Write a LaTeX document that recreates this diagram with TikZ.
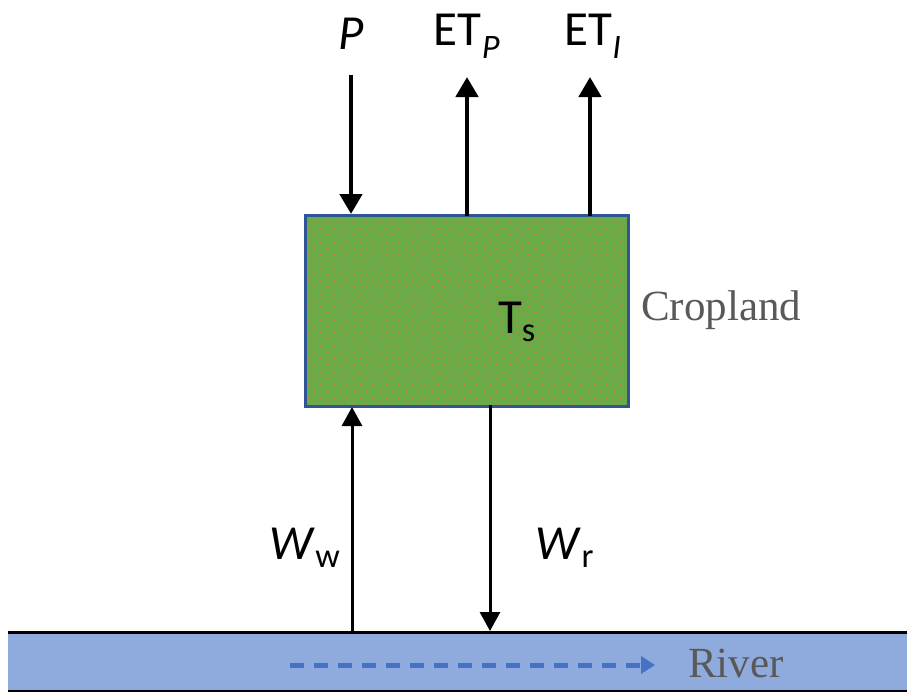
\documentclass[tikz,border=0pt]{standalone}
\usepackage{fontspec}
\setmainfont{Liberation Serif}
\newfontfamily\calib{Carlito}
\usetikzlibrary{arrows.meta,patterns.meta}
\definecolor{cropgreen}{HTML}{6AAB47}
\definecolor{cropblue}{HTML}{2F5597}
\definecolor{riverblue}{HTML}{8FAADC}
\definecolor{flowblue}{HTML}{4472C4}
\definecolor{txtgray}{HTML}{595959}
\definecolor{dotorange}{HTML}{D9773A}
\tikzdeclarepattern{name=cropdots,type=uncolored,bounding box={(0pt,0pt) and (13pt,13pt)},tile size={(13pt,13pt)},code={\fill (3.25pt,3.25pt) circle (1.3pt); \fill (9.75pt,9.75pt) circle (1.3pt);}}
\tikzset{
  flux/.style={line width=4.5pt,-{Triangle[width=22pt,length=20pt]}},
  fluxthin/.style={line width=3pt,-{Triangle[width=20pt,length=19pt]}},
  sym/.style={font=\calib\fontsize{49}{56}\selectfont,inner sep=0pt},
  lab/.style={font=\fontsize{43}{50}\selectfont,text=txtgray,inner sep=0pt}
}
\begin{document}
\begin{tikzpicture}[x=1pt,y=-1pt]
\useasboundingbox (0,0) rectangle (907,693);
% river
\fill[riverblue] (8,632) rectangle (907,691);
\draw[line width=3pt] (8,632) -- (907,632);
\draw[line width=2pt] (8,691) -- (907,691);
\coordinate (rs) at (290,665);
\coordinate (re) at (655,665);
\draw[flowblue,line width=5pt,dash pattern=on 14pt off 10pt,-{Triangle[width=17pt,length=14pt]}] (rs) -- (re);
\node[lab,anchor=west] (river) at (688,663) {River};
% cropland box
\node[draw=cropblue,line width=3pt,fill=cropgreen,minimum width=323pt,minimum height=191pt,inner sep=0pt] (crop) at (466.5,310.5) {};
\fill[pattern=cropdots,pattern color=dotorange] (307,217) rectangle (626,404);
\node[sym] (ts) at (517,322) {T\textsubscript{s}};
\node[lab,anchor=west] (cl) at (641,310) {Cropland};
% top fluxes
\coordinate (p0) at (351,75);
\coordinate (p1) at (351,214);
\coordinate (e1a) at (467,216);
\coordinate (e1b) at (467,77);
\coordinate (e2a) at (590,216);
\coordinate (e2b) at (590,77);
\draw[flux] (p0) -- (p1);
\draw[flux] (e1a) -- (e1b);
\draw[flux] (e2a) -- (e2b);
\node[sym] (P) at (351,34) {\textit{P}};
\node[sym] (etp) at (467,36) {ET\textsubscript{\textit{P}}};
\node[sym] (eti) at (593,36) {ET\textsubscript{\textit{I}}};
% bottom fluxes
\coordinate (w0) at (352,631);
\coordinate (w1) at (352,407);
\coordinate (r0) at (490,405);
\coordinate (r1) at (490,631);
\draw[fluxthin] (w0) -- (w1);
\draw[fluxthin] (r0) -- (r1);
\node[sym] (ww) at (305,548) {\textit{W}\textsubscript{w}};
\node[sym] (wr) at (565,548) {\textit{W}\textsubscript{r}};
\end{tikzpicture}
\end{document}
